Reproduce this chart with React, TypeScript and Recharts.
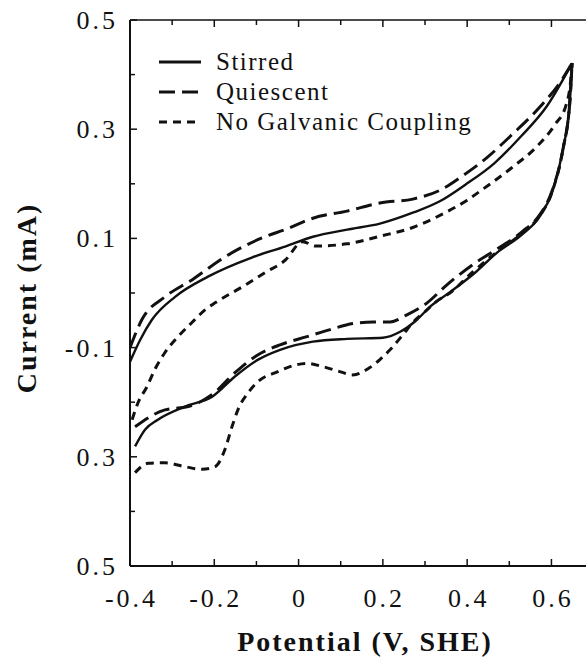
import React from "react"
import { LineChart, Line, XAxis, YAxis } from "recharts"

// [potential V, current mA]
const stirredForward: [number, number][] = [
  [-0.4, -0.126], [-0.376, -0.086], [-0.348, -0.049], [-0.293, -0.007], [-0.215, 0.03],
  [-0.111, 0.065], [-0.032, 0.085], [0.034, 0.103], [0.115, 0.116], [0.193, 0.127],
  [0.271, 0.147], [0.335, 0.168], [0.395, 0.198], [0.465, 0.238], [0.528, 0.287],
  [0.589, 0.342], [0.649, 0.421],
]
const stirredReverse: [number, number][] = [
  [-0.388, -0.281], [-0.364, -0.25], [-0.334, -0.232], [-0.27, -0.208], [-0.205, -0.19],
  [-0.151, -0.153], [-0.096, -0.122], [-0.044, -0.104], [0.034, -0.089], [0.115, -0.084],
  [0.2, -0.082], [0.241, -0.071], [0.281, -0.049], [0.312, -0.025], [0.36, 0.002],
  [0.42, 0.038], [0.471, 0.074], [0.53, 0.107], [0.572, 0.14], [0.602, 0.185],
  [0.627, 0.262], [0.644, 0.354], [0.649, 0.421],
]
const quiescentForward: [number, number][] = [
  [-0.4, -0.1], [-0.372, -0.049], [-0.317, -0.007], [-0.253, 0.024], [-0.175, 0.066],
  [-0.08, 0.103], [-0.032, 0.116], [0.034, 0.137], [0.115, 0.15], [0.193, 0.165],
  [0.271, 0.172], [0.335, 0.188], [0.39, 0.215], [0.447, 0.248], [0.509, 0.292],
  [0.573, 0.341], [0.62, 0.385], [0.649, 0.421],
]
const quiescentReverse: [number, number][] = [
  [-0.388, -0.245], [-0.317, -0.214], [-0.262, -0.208], [-0.205, -0.186], [-0.151, -0.146],
  [-0.096, -0.113], [-0.044, -0.095], [0.02, -0.08], [0.075, -0.067], [0.129, -0.056],
  [0.177, -0.053], [0.217, -0.053], [0.257, -0.04], [0.305, -0.018], [0.352, 0.015],
  [0.423, 0.057], [0.47, 0.08], [0.53, 0.112], [0.572, 0.143], [0.602, 0.188],
  [0.627, 0.262], [0.644, 0.354], [0.649, 0.421],
]
const noCouplingForward: [number, number][] = [
  [-0.395, -0.232], [-0.381, -0.201], [-0.36, -0.172], [-0.341, -0.14], [-0.317, -0.109],
  [-0.286, -0.08], [-0.253, -0.054], [-0.222, -0.031], [-0.198, -0.018], [-0.134, 0.011],
  [-0.08, 0.037], [-0.032, 0.06], [0.01, 0.094], [0.04, 0.086], [0.115, 0.09],
  [0.193, 0.104], [0.271, 0.12], [0.34, 0.144], [0.4, 0.17], [0.437, 0.19],
  [0.505, 0.229], [0.565, 0.268], [0.608, 0.308], [0.635, 0.345], [0.645, 0.385],
  [0.649, 0.421],
]
const noCouplingReverse: [number, number][] = [
  [-0.388, -0.329], [-0.357, -0.312], [-0.317, -0.311], [-0.27, -0.318], [-0.229, -0.323],
  [-0.198, -0.318], [-0.175, -0.287], [-0.158, -0.245], [-0.144, -0.214], [-0.12, -0.183],
  [-0.096, -0.162], [-0.049, -0.144], [-0.028, -0.137], [0.02, -0.129], [0.058, -0.135],
  [0.098, -0.144], [0.129, -0.15], [0.162, -0.14], [0.193, -0.122], [0.217, -0.104],
  [0.248, -0.076], [0.271, -0.054], [0.305, -0.031], [0.328, -0.015], [0.359, 0.0],
  [0.414, 0.039], [0.47, 0.075], [0.53, 0.109], [0.572, 0.141], [0.602, 0.186],
  [0.627, 0.262], [0.644, 0.354], [0.649, 0.421],
]

const xMajorTicks = [-0.4, -0.2, 0, 0.2, 0.4, 0.6]
const xTickLabels = ["-0.4", "-0.2", "0", "0.2", "0.4", "0.6"]
const xMinorTicks = [-0.3, -0.1, 0.1, 0.3, 0.5]
const yMajorTicks = [0.5, 0.3, 0.1, -0.1, -0.3, -0.5]
const yTickLabels = ["0.5", "0.3", "0.1", "-0.1", "0.3", "0.5"]
const yMinorTicks = [0.4, 0.2, 0, -0.2, -0.4]

const seriesNames = ["Stirred", "Quiescent", "No Galvanic Coupling"]
const seriesDashes = ["", "16 7", "8 6"]

const INK = "#111"
const SERIF = '"Liberation Serif", "Times New Roman", serif'

const toPoints = (arr: [number, number][]) => arr.map(([v, i]) => ({ v, i }))
const findMajor = (ticks: number[], value: number) =>
  ticks.findIndex((t) => Math.abs(t - value) < 1e-6)

const xAllTicks = [...xMajorTicks, ...xMinorTicks].sort((a, b) => a - b)
const yAllTicks = [...yMajorTicks, ...yMinorTicks].sort((a, b) => a - b)

const BottomTick = (props: any) => {
  const { x, y, payload } = props
  const idx = findMajor(xMajorTicks, payload.value)
  return (
    <g>
      <line x1={x} x2={x} y1={y} y2={y - (idx >= 0 ? 7 : 5)} stroke={INK} strokeWidth={1.5} />
      {idx >= 0 && (
        <text
          x={x + 1.5}
          y={y + 41}
          textAnchor="middle"
          fontFamily={SERIF}
          fontSize={26}
          letterSpacing={3}
          fill={INK}
        >
          {xTickLabels[idx]}
        </text>
      )}
    </g>
  )
}

const TopTick = (props: any) => {
  const { x, y, payload } = props
  const idx = findMajor(xMajorTicks, payload.value)
  return <line x1={x} x2={x} y1={y} y2={y + (idx >= 0 ? 7 : 5)} stroke={INK} strokeWidth={1.5} />
}

const LeftTick = (props: any) => {
  const { x, y, payload } = props
  const idx = findMajor(yMajorTicks, payload.value)
  return (
    <g>
      <line x1={x} x2={x + (idx >= 0 ? 7 : 5)} y1={y} y2={y} stroke={INK} strokeWidth={1.5} />
      {idx >= 0 && (
        <text
          x={x - 12}
          y={y + 9}
          textAnchor="end"
          fontFamily={SERIF}
          fontSize={26}
          letterSpacing={3}
          fill={INK}
        >
          {yTickLabels[idx]}
        </text>
      )}
    </g>
  )
}

const branches = [
  { data: stirredForward, s: 0 },
  { data: stirredReverse, s: 0 },
  { data: quiescentForward, s: 1 },
  { data: quiescentReverse, s: 1 },
  { data: noCouplingForward, s: 2 },
  { data: noCouplingReverse, s: 2 },
]

export default function App() {
  return (
    <div style={{ position: "absolute", left: 0, top: 0, width: 586, height: 661, background: "#fff" }}>
      <LineChart width={586} height={661} margin={{ top: 0, right: 0, bottom: 0, left: 0 }}>
        <XAxis
          dataKey="v"
          type="number"
          domain={[-0.4, 0.682]}
          ticks={xAllTicks}
          interval={0}
          height={95}
          tickSize={0}
          tickMargin={0}
          tickLine={false}
          axisLine={{ stroke: INK, strokeWidth: 2 }}
          tick={<BottomTick />}
          allowDataOverflow
        />
        <XAxis
          xAxisId="top"
          orientation="top"
          dataKey="v"
          type="number"
          domain={[-0.4, 0.682]}
          ticks={xAllTicks}
          interval={0}
          height={20}
          tickSize={0}
          tickMargin={0}
          tickLine={false}
          axisLine={{ stroke: INK, strokeWidth: 1.5 }}
          tick={<TopTick />}
          allowDataOverflow
        />
        <YAxis
          type="number"
          domain={[-0.5, 0.5]}
          ticks={yAllTicks}
          interval={0}
          width={130}
          tickSize={0}
          tickMargin={0}
          tickLine={false}
          axisLine={{ stroke: INK, strokeWidth: 2 }}
          tick={<LeftTick />}
          allowDataOverflow
        />
        {branches.map((b, k) => (
          <Line
            key={k}
            data={toPoints(b.data)}
            dataKey="i"
            type="monotone"
            stroke={INK}
            strokeWidth={b.s === 0 ? 2.4 : 3}
            strokeDasharray={seriesDashes[b.s] || undefined}
            dot={false}
            activeDot={false}
            isAnimationActive={false}
          />
        ))}
      </LineChart>

      {/* legend */}
      <div
        style={{
          position: "absolute",
          left: 158,
          top: 47,
          fontFamily: SERIF,
          fontSize: 25,
          letterSpacing: 1.5,
          color: INK,
        }}
      >
        {seriesNames.map((name, k) => (
          <div key={name} style={{ display: "flex", alignItems: "center", height: 30 }}>
            <svg width={44} height={10}>
              <line
                x1={1}
                x2={43}
                y1={5}
                y2={5}
                stroke={INK}
                strokeWidth={3}
                strokeDasharray={seriesDashes[k] || undefined}
              />
            </svg>
            <span style={{ marginLeft: 14, whiteSpace: "nowrap" }}>{name}</span>
          </div>
        ))}
      </div>

      <div
        style={{
          position: "absolute",
          left: 27,
          top: 298,
          transform: "translate(-50%, -50%) rotate(-90deg)",
          fontFamily: SERIF,
          fontWeight: "bold",
          fontSize: 28,
          letterSpacing: 2,
          whiteSpace: "nowrap",
          color: INK,
        }}
      >
        Current (mA)
      </div>
      <div
        style={{
          position: "absolute",
          left: 365,
          top: 642,
          transform: "translate(-50%, -50%)",
          fontFamily: SERIF,
          fontWeight: "bold",
          fontSize: 28,
          letterSpacing: 2,
          whiteSpace: "nowrap",
          color: INK,
        }}
      >
        Potential (V, SHE)
      </div>
    </div>
  )
}
